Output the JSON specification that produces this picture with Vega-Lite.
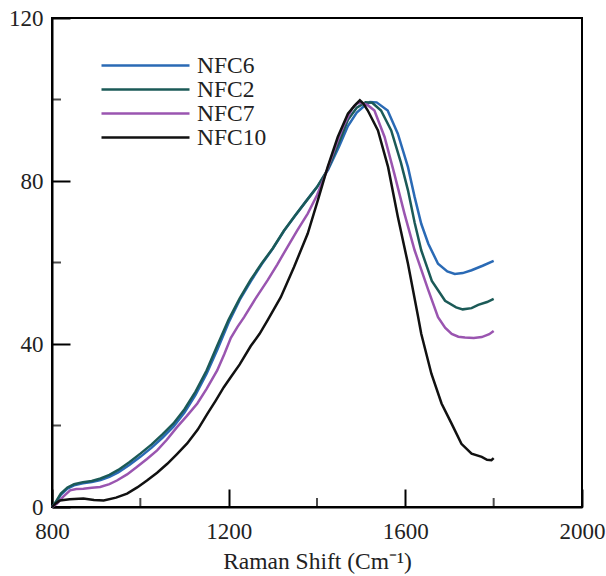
{
  "$schema": "https://vega.github.io/schema/vega-lite/v6.json",
  "width": 530,
  "height": 489,
  "autosize": "none",
  "padding": {"left": 52, "top": 18, "right": 24, "bottom": 69},
  "background": "white",
  "config": {
    "font": "Liberation Serif",
    "view": {"stroke": "black", "strokeWidth": 2},
    "axis": {
      "grid": false,
      "domainColor": "black",
      "domainWidth": 2,
      "tickColor": "black",
      "tickWidth": 2,
      "labelFont": "Liberation Serif",
      "labelFontSize": 23,
      "labelColor": "#222222",
      "labelOverlap": false,
      "labelBound": false,
      "labelFlush": false,
      "titleFont": "Liberation Serif",
      "titleFontSize": 23.5,
      "titleFontWeight": "normal",
      "titleColor": "#222222"
    }
  },
  "datasets": {
    "spectra": [
      {"s": "NFC6", "x": 800, "y": 0}, {"s": "NFC6", "x": 810, "y": 1.3}, {"s": "NFC6", "x": 820, "y": 3}, {"s": "NFC6", "x": 835, "y": 4.5}, {"s": "NFC6", "x": 850, "y": 5.3}, {"s": "NFC6", "x": 870, "y": 5.8}, {"s": "NFC6", "x": 890, "y": 6.1}, {"s": "NFC6", "x": 910, "y": 6.6}, {"s": "NFC6", "x": 930, "y": 7.4}, {"s": "NFC6", "x": 950, "y": 8.5}, {"s": "NFC6", "x": 975, "y": 10.3}, {"s": "NFC6", "x": 1000, "y": 12.3}, {"s": "NFC6", "x": 1025, "y": 14.5}, {"s": "NFC6", "x": 1050, "y": 17}, {"s": "NFC6", "x": 1075, "y": 19.7}, {"s": "NFC6", "x": 1100, "y": 23.2}, {"s": "NFC6", "x": 1125, "y": 27.5}, {"s": "NFC6", "x": 1150, "y": 32.7}, {"s": "NFC6", "x": 1175, "y": 38.8}, {"s": "NFC6", "x": 1200, "y": 45.3}, {"s": "NFC6", "x": 1225, "y": 50.8}, {"s": "NFC6", "x": 1250, "y": 55.4}, {"s": "NFC6", "x": 1275, "y": 59.6}, {"s": "NFC6", "x": 1300, "y": 63.4}, {"s": "NFC6", "x": 1325, "y": 67.7}, {"s": "NFC6", "x": 1350, "y": 71.4}, {"s": "NFC6", "x": 1375, "y": 75}, {"s": "NFC6", "x": 1400, "y": 78.5}, {"s": "NFC6", "x": 1425, "y": 82.7}, {"s": "NFC6", "x": 1450, "y": 88.5}, {"s": "NFC6", "x": 1470, "y": 93.5}, {"s": "NFC6", "x": 1490, "y": 96.8}, {"s": "NFC6", "x": 1505, "y": 98.2}, {"s": "NFC6", "x": 1520, "y": 99.4}, {"s": "NFC6", "x": 1535, "y": 99.3}, {"s": "NFC6", "x": 1560, "y": 97.3}, {"s": "NFC6", "x": 1583, "y": 91.6}, {"s": "NFC6", "x": 1606, "y": 83.4}, {"s": "NFC6", "x": 1621, "y": 76.1}, {"s": "NFC6", "x": 1636, "y": 69.5}, {"s": "NFC6", "x": 1652, "y": 64.6}, {"s": "NFC6", "x": 1674, "y": 59.7}, {"s": "NFC6", "x": 1695, "y": 57.8}, {"s": "NFC6", "x": 1712, "y": 57.2}, {"s": "NFC6", "x": 1730, "y": 57.4}, {"s": "NFC6", "x": 1750, "y": 58.1}, {"s": "NFC6", "x": 1775, "y": 59.2}, {"s": "NFC6", "x": 1800, "y": 60.4},
      {"s": "NFC2", "x": 800, "y": 0}, {"s": "NFC2", "x": 810, "y": 1.5}, {"s": "NFC2", "x": 820, "y": 3.3}, {"s": "NFC2", "x": 835, "y": 4.8}, {"s": "NFC2", "x": 850, "y": 5.6}, {"s": "NFC2", "x": 870, "y": 6.1}, {"s": "NFC2", "x": 890, "y": 6.4}, {"s": "NFC2", "x": 910, "y": 7}, {"s": "NFC2", "x": 930, "y": 7.9}, {"s": "NFC2", "x": 950, "y": 9.1}, {"s": "NFC2", "x": 975, "y": 11}, {"s": "NFC2", "x": 1000, "y": 13.1}, {"s": "NFC2", "x": 1025, "y": 15.3}, {"s": "NFC2", "x": 1050, "y": 17.8}, {"s": "NFC2", "x": 1075, "y": 20.5}, {"s": "NFC2", "x": 1100, "y": 24}, {"s": "NFC2", "x": 1125, "y": 28.3}, {"s": "NFC2", "x": 1150, "y": 33.5}, {"s": "NFC2", "x": 1175, "y": 39.8}, {"s": "NFC2", "x": 1200, "y": 46}, {"s": "NFC2", "x": 1225, "y": 51.2}, {"s": "NFC2", "x": 1250, "y": 55.8}, {"s": "NFC2", "x": 1275, "y": 59.8}, {"s": "NFC2", "x": 1300, "y": 63.5}, {"s": "NFC2", "x": 1325, "y": 67.8}, {"s": "NFC2", "x": 1350, "y": 71.5}, {"s": "NFC2", "x": 1375, "y": 75}, {"s": "NFC2", "x": 1400, "y": 78.5}, {"s": "NFC2", "x": 1425, "y": 83}, {"s": "NFC2", "x": 1450, "y": 89.5}, {"s": "NFC2", "x": 1470, "y": 95}, {"s": "NFC2", "x": 1490, "y": 98}, {"s": "NFC2", "x": 1510, "y": 99.3}, {"s": "NFC2", "x": 1525, "y": 99.2}, {"s": "NFC2", "x": 1545, "y": 97.3}, {"s": "NFC2", "x": 1568, "y": 92.4}, {"s": "NFC2", "x": 1590, "y": 84.5}, {"s": "NFC2", "x": 1606, "y": 77.7}, {"s": "NFC2", "x": 1621, "y": 69.8}, {"s": "NFC2", "x": 1636, "y": 63}, {"s": "NFC2", "x": 1660, "y": 55.5}, {"s": "NFC2", "x": 1690, "y": 50.6}, {"s": "NFC2", "x": 1715, "y": 49}, {"s": "NFC2", "x": 1730, "y": 48.5}, {"s": "NFC2", "x": 1750, "y": 48.8}, {"s": "NFC2", "x": 1765, "y": 49.6}, {"s": "NFC2", "x": 1785, "y": 50.3}, {"s": "NFC2", "x": 1800, "y": 51.1},
      {"s": "NFC7", "x": 800, "y": 0}, {"s": "NFC7", "x": 811, "y": 0.8}, {"s": "NFC7", "x": 825, "y": 2.5}, {"s": "NFC7", "x": 841, "y": 4.1}, {"s": "NFC7", "x": 855, "y": 4.4}, {"s": "NFC7", "x": 871, "y": 4.5}, {"s": "NFC7", "x": 890, "y": 4.7}, {"s": "NFC7", "x": 909, "y": 4.9}, {"s": "NFC7", "x": 930, "y": 5.6}, {"s": "NFC7", "x": 947, "y": 6.5}, {"s": "NFC7", "x": 970, "y": 8}, {"s": "NFC7", "x": 992, "y": 9.8}, {"s": "NFC7", "x": 1015, "y": 11.8}, {"s": "NFC7", "x": 1038, "y": 13.9}, {"s": "NFC7", "x": 1060, "y": 16.5}, {"s": "NFC7", "x": 1083, "y": 19.6}, {"s": "NFC7", "x": 1105, "y": 22.3}, {"s": "NFC7", "x": 1129, "y": 25.4}, {"s": "NFC7", "x": 1150, "y": 29}, {"s": "NFC7", "x": 1174, "y": 33.5}, {"s": "NFC7", "x": 1190, "y": 37.5}, {"s": "NFC7", "x": 1205, "y": 41.5}, {"s": "NFC7", "x": 1220, "y": 44.2}, {"s": "NFC7", "x": 1235, "y": 46.6}, {"s": "NFC7", "x": 1260, "y": 51}, {"s": "NFC7", "x": 1288, "y": 55.6}, {"s": "NFC7", "x": 1310, "y": 59.5}, {"s": "NFC7", "x": 1333, "y": 63.8}, {"s": "NFC7", "x": 1355, "y": 67.8}, {"s": "NFC7", "x": 1379, "y": 72}, {"s": "NFC7", "x": 1400, "y": 76.5}, {"s": "NFC7", "x": 1417, "y": 81}, {"s": "NFC7", "x": 1432, "y": 85.5}, {"s": "NFC7", "x": 1447, "y": 90}, {"s": "NFC7", "x": 1460, "y": 93.5}, {"s": "NFC7", "x": 1470, "y": 95.7}, {"s": "NFC7", "x": 1480, "y": 97.8}, {"s": "NFC7", "x": 1490, "y": 99}, {"s": "NFC7", "x": 1500, "y": 99.2}, {"s": "NFC7", "x": 1515, "y": 98.6}, {"s": "NFC7", "x": 1530, "y": 97.3}, {"s": "NFC7", "x": 1553, "y": 90.8}, {"s": "NFC7", "x": 1575, "y": 81.8}, {"s": "NFC7", "x": 1598, "y": 72}, {"s": "NFC7", "x": 1621, "y": 63}, {"s": "NFC7", "x": 1652, "y": 53.2}, {"s": "NFC7", "x": 1674, "y": 46.6}, {"s": "NFC7", "x": 1690, "y": 44}, {"s": "NFC7", "x": 1705, "y": 42.5}, {"s": "NFC7", "x": 1720, "y": 41.8}, {"s": "NFC7", "x": 1735, "y": 41.6}, {"s": "NFC7", "x": 1755, "y": 41.5}, {"s": "NFC7", "x": 1773, "y": 41.7}, {"s": "NFC7", "x": 1790, "y": 42.4}, {"s": "NFC7", "x": 1800, "y": 43.2},
      {"s": "NFC10", "x": 800, "y": 0}, {"s": "NFC10", "x": 810, "y": 1}, {"s": "NFC10", "x": 818, "y": 1.6}, {"s": "NFC10", "x": 840, "y": 1.9}, {"s": "NFC10", "x": 871, "y": 2.1}, {"s": "NFC10", "x": 895, "y": 1.7}, {"s": "NFC10", "x": 917, "y": 1.6}, {"s": "NFC10", "x": 945, "y": 2.3}, {"s": "NFC10", "x": 970, "y": 3.3}, {"s": "NFC10", "x": 993, "y": 4.8}, {"s": "NFC10", "x": 1015, "y": 6.5}, {"s": "NFC10", "x": 1038, "y": 8.4}, {"s": "NFC10", "x": 1061, "y": 10.6}, {"s": "NFC10", "x": 1083, "y": 13}, {"s": "NFC10", "x": 1106, "y": 15.6}, {"s": "NFC10", "x": 1130, "y": 19}, {"s": "NFC10", "x": 1152, "y": 22.9}, {"s": "NFC10", "x": 1170, "y": 26}, {"s": "NFC10", "x": 1189, "y": 29.4}, {"s": "NFC10", "x": 1205, "y": 31.9}, {"s": "NFC10", "x": 1225, "y": 35}, {"s": "NFC10", "x": 1250, "y": 39.5}, {"s": "NFC10", "x": 1270, "y": 42.5}, {"s": "NFC10", "x": 1288, "y": 45.8}, {"s": "NFC10", "x": 1318, "y": 51.5}, {"s": "NFC10", "x": 1348, "y": 58.9}, {"s": "NFC10", "x": 1379, "y": 67.1}, {"s": "NFC10", "x": 1402, "y": 75.3}, {"s": "NFC10", "x": 1424, "y": 83.4}, {"s": "NFC10", "x": 1447, "y": 90.8}, {"s": "NFC10", "x": 1470, "y": 96.5}, {"s": "NFC10", "x": 1485, "y": 98.5}, {"s": "NFC10", "x": 1497, "y": 99.8}, {"s": "NFC10", "x": 1505, "y": 99}, {"s": "NFC10", "x": 1515, "y": 97.3}, {"s": "NFC10", "x": 1538, "y": 92.4}, {"s": "NFC10", "x": 1561, "y": 83.4}, {"s": "NFC10", "x": 1583, "y": 71.2}, {"s": "NFC10", "x": 1606, "y": 59.7}, {"s": "NFC10", "x": 1629, "y": 46.6}, {"s": "NFC10", "x": 1636, "y": 42.5}, {"s": "NFC10", "x": 1659, "y": 32.7}, {"s": "NFC10", "x": 1682, "y": 25.4}, {"s": "NFC10", "x": 1705, "y": 20.4}, {"s": "NFC10", "x": 1727, "y": 15.5}, {"s": "NFC10", "x": 1750, "y": 13.1}, {"s": "NFC10", "x": 1773, "y": 12.3}, {"s": "NFC10", "x": 1785, "y": 11.6}, {"s": "NFC10", "x": 1795, "y": 11.5}, {"s": "NFC10", "x": 1800, "y": 12}
    ],
    "xminor": [{"v": 1000}, {"v": 1400}, {"v": 1800}],
    "yminor": [{"v": 20}, {"v": 60}, {"v": 100}]
  },
  "layer": [
    {
      "data": {"name": "spectra"},
      "mark": {"type": "line", "strokeWidth": 2.5},
      "encoding": {
        "x": {
          "field": "x", "type": "quantitative",
          "scale": {"domain": [800, 2000], "nice": false, "zero": false},
          "axis": {"values": [800, 1200, 1600, 2000], "format": "d", "tickSize": -18, "labelPadding": 31, "title": "Raman Shift (Cm⁻¹)", "titlePadding": 6}
        },
        "y": {
          "field": "y", "type": "quantitative",
          "scale": {"domain": [0, 120], "nice": false},
          "axis": {"values": [0, 40, 80, 120], "format": "d", "tickSize": -18, "labelPadding": 27, "title": null, "labelBaseline": "middle"}
        },
        "color": {
          "field": "s", "type": "nominal",
          "scale": {"domain": ["NFC6", "NFC2", "NFC7", "NFC10"], "range": ["#2a6ab5", "#1b5a57", "#9a55b0", "#111111"]},
          "legend": {
            "orient": "none", "legendX": 81, "legendY": 35, "title": null,
            "padding": 0, "rowPadding": -2,
            "symbolType": "M-4,0H4", "symbolSize": 484, "symbolStrokeWidth": 2.5,
            "labelOffset": 39, "labelFont": "Liberation Serif", "labelFontSize": 23.5, "labelColor": "#222222",
            "labelLimit": 300
          }
        }
      }
    },
    {
      "data": {"name": "xminor"},
      "mark": {"type": "tick", "orient": "vertical", "size": 18, "thickness": 2, "color": "black", "clip": true},
      "encoding": {
        "x": {"field": "v", "type": "quantitative"},
        "y": {"datum": 0, "type": "quantitative"}
      }
    },
    {
      "data": {"name": "yminor"},
      "mark": {"type": "tick", "orient": "horizontal", "size": 18, "thickness": 2, "color": "black", "clip": true},
      "encoding": {
        "y": {"field": "v", "type": "quantitative"},
        "x": {"datum": 800, "type": "quantitative"}
      }
    }
  ]
}
